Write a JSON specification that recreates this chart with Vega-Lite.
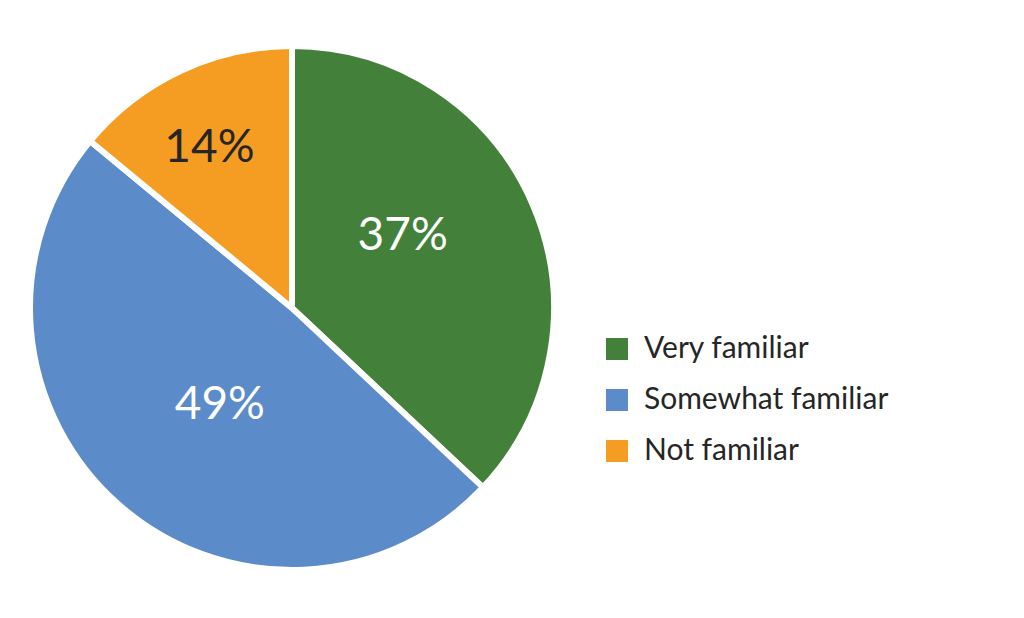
{
  "$schema": "https://vega.github.io/schema/vega-lite/v6.json",
  "width": 524,
  "height": 524,
  "padding": {"left": 30, "top": 46, "right": 470, "bottom": 48},
  "autosize": {"type": "none"},
  "background": "white",
  "data": {"values": [
    {"category": "Very familiar", "pct": 37, "idx": 1, "label": "37%"},
    {"category": "Somewhat familiar", "pct": 49, "idx": 2, "label": "49%"},
    {"category": "Not familiar", "pct": 14, "idx": 3, "label": "14%"}
  ]},
  "transform": [
    {"stack": "pct", "groupby": [], "sort": [{"field": "idx", "order": "ascending"}], "as": ["t0", "t1"]}
  ],
  "layer": [
    {
      "mark": {"type": "arc", "stroke": "white", "strokeWidth": 6, "strokeJoin": "miter"},
      "encoding": {
        "theta": {"field": "t0", "type": "quantitative", "scale": {"domain": [0, 100]}},
        "theta2": {"field": "t1"},
        "color": {
          "field": "category", "type": "nominal",
          "sort": ["Very familiar", "Somewhat familiar", "Not familiar"],
          "scale": {"domain": ["Very familiar", "Somewhat familiar", "Not familiar"], "range": ["#43813A", "#5B8BC8", "#F59D23"]},
          "legend": {
            "title": null, "orient": "none", "legendX": 572, "legendY": 288,
            "symbolType": "square", "symbolSize": 484, "symbolStrokeWidth": 0,
            "labelFont": "Lato", "labelFontSize": 30, "labelColor": "#262626",
            "labelOffset": 12, "rowPadding": 21, "labelLimit": 400
          }
        }
      }
    },
    {
      "transform": [{"filter": "datum.category === 'Very familiar'"}],
      "mark": {"type": "text", "radius": 132, "thetaOffset": 0.995, "font": "Lato", "fontSize": 46, "color": "white"},
      "encoding": {"theta": {"field": "t0", "type": "quantitative"}, "text": {"field": "label"}}
    },
    {
      "transform": [{"filter": "datum.category === 'Somewhat familiar'"}],
      "mark": {"type": "text", "radius": 121, "thetaOffset": 1.456, "font": "Lato", "fontSize": 46, "color": "white"},
      "encoding": {"theta": {"field": "t0", "type": "quantitative"}, "text": {"field": "label"}}
    },
    {
      "transform": [{"filter": "datum.category === 'Not familiar'"}],
      "mark": {"type": "text", "radius": 180, "thetaOffset": 0.403, "font": "Lato", "fontSize": 46, "color": "#262626"},
      "encoding": {"theta": {"field": "t0", "type": "quantitative"}, "text": {"field": "label"}}
    }
  ]
}
